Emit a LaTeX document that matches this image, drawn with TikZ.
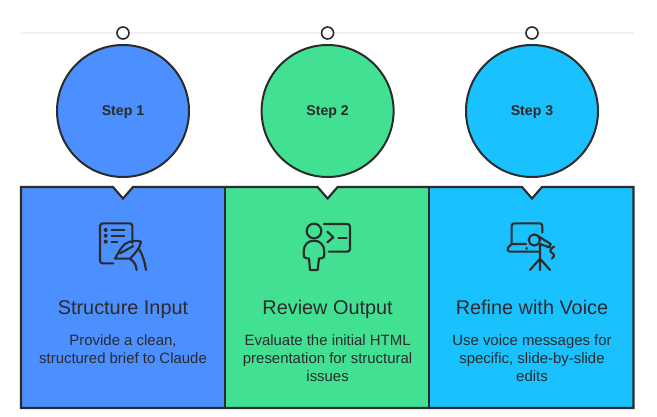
\documentclass[tikz,border=0pt]{standalone}
\usepackage{fontspec}
\setmainfont{Liberation Sans}
\definecolor{ink}{HTML}{2B2B2B}
\definecolor{cblue}{HTML}{4C8FFF}
\definecolor{cgreen}{HTML}{42E093}
\definecolor{ccyan}{HTML}{19C1FF}
\definecolor{rule}{HTML}{F3F3F3}
\tikzset{
  px/.style={x=0.75pt,y=-0.75pt},
  panel/.style={draw=ink,line width=1.6pt,line join=miter},
  bigcircle/.style={circle,draw=ink,line width=1.5pt,minimum size=132*0.75pt,inner sep=0pt,text depth=0pt,font=\fontsize{10.6}{12}\selectfont\bfseries,text=ink},
  dot/.style={circle,draw=ink,fill=white,line width=1.2pt,minimum size=12*0.75pt,inner sep=0pt},
  title/.style={font=\fontsize{14.9}{16}\selectfont,text=ink,inner sep=0pt,anchor=base},
  body/.style={font=\fontsize{11.2}{13.5}\selectfont,text=ink,align=center,inner sep=0pt,anchor=north},
  icon/.style={draw=ink,line width=1.6pt,line cap=round,line join=round},
}
\begin{document}
\begin{tikzpicture}[px]
\useasboundingbox (0,0) rectangle (657,417);
\fill[white] (0,0) rectangle (657,417);
\coordinate (ruleL) at (20,33);
\coordinate (ruleR) at (634,33);
\draw[rule,line width=1.1pt] (ruleL) -- (ruleR);
\node[dot] (d1) at (123,33) {};
\node[dot] (d2) at (327.6,33) {};
\node[dot] (d3) at (532,33) {};
\node[bigcircle,fill=cblue] (c1) at (123,111) {Step 1};
\node[bigcircle,fill=cgreen] (c2) at (327.6,111) {Step 2};
\node[bigcircle,fill=ccyan] (c3) at (532,111) {Step 3};
% panels
\fill[cblue] (21,187) rectangle (225,408);
\fill[cgreen] (225,187) rectangle (429,408);
\fill[ccyan] (429,187) rectangle (633,408);
\fill[white] (112.5,186) -- (133.5,186) -- (123,198.5) -- cycle;
\fill[white] (317,186) -- (338,186) -- (327.6,198.5) -- cycle;
\fill[white] (521.5,186) -- (542.5,186) -- (532,198.5) -- cycle;
\draw[panel] (21,187) -- (113,187) -- (123,198.5) -- (133,187) -- (317.6,187) -- (327.6,198.5) -- (337.6,187) -- (522,187) -- (532,198.5) -- (542,187) -- (633.5,187) -- (633.5,408) -- (21,408) -- cycle;
\draw[panel] (225,187) -- (225,408);
\draw[panel] (429,187) -- (429,408);
% titles
\node[title] (t1) at (123,314) {Structure Input};
\node[title] (t2) at (327.6,314) {Review Output};
\node[title] (t3) at (532,314) {Refine with Voice};
\node[body] (b1) at (123,334) {Provide a clean,\\structured brief to Claude};
\node[body] (b2) at (327.6,334) {Evaluate the initial HTML\\presentation for structural\\issues};
\node[body] (b3) at (532,334) {Use voice messages for\\specific, slide-by-slide\\edits};
% icon 1: document and quill
\begin{scope}[shift={(80,210)},x=0.25pt,y=-0.25pt]
\draw[icon,rounded corners=2pt] (157,100) -- (157,40) -- (60,40) -- (60,160) -- (100,160);
\fill[ink] (77,60) circle (1.5pt) (77,77) circle (1.5pt) (77,95) circle (1.5pt);
\draw[icon] (95,60) -- (133,60) (95,77) -- (133,77) (95,95) -- (112,95);
\draw[icon] (105,146) -- (150,146) .. controls (165,130) and (180,115) .. (183,95) .. controls (170,90) and (150,92) .. (135,102) .. controls (122,112) and (115,130) .. (105,146);
\draw[icon] (120,130) -- (160,108);
\draw[icon] (150,146) .. controls (160,155) and (168,160) .. (170,180);
\draw[icon] (178,118) .. controls (188,135) and (194,155) .. (198,180);
\end{scope}
% icon 2: person and screen
\begin{scope}[shift={(285,210)},x=0.25pt,y=-0.25pt]
\draw[icon] (87,63) circle[radius=22];
\draw[icon] (75,180) -- (98,180) -- (102,145) -- (110,145) .. controls (118,145) and (118,140) .. (118,125) .. controls (118,105) and (105,92) .. (87,92) .. controls (68,92) and (56,105) .. (56,125) .. controls (56,140) and (56,145) .. (64,145) -- (72,145) -- cycle;
\draw[icon,rounded corners=2pt] (117,42) -- (195,42) -- (195,125) -- (131,125);
\draw[icon] (127,65) -- (145,82) -- (127,97);
\draw[icon] (160,83) -- (185,83);
\end{scope}
% icon 3: laptop and microphone
\begin{scope}[shift={(490,210)},x=0.25pt,y=-0.25pt]
\draw[icon,rounded corners=2pt] (65,100) -- (65,40) -- (157,40) -- (157,68);
\draw[icon] (108,102) -- (65,102) -- (54,113) .. controls (50,120) and (54,125) .. (60,125) -- (150,125);
\fill[ink] (110,115) circle (1.2pt);
\draw[icon] (133,90) circle[radius=17];
\draw[icon] (147,80) -- (182,102) -- (178,112) -- (150,102);
\draw[icon] (192,110) .. controls (178,118) and (178,125) .. (188,130) .. controls (196,136) and (190,142) .. (186,146);
\draw[icon] (150,107) -- (150,180) (150,146) -- (120,180) (150,146) -- (180,180);
\end{scope}
\end{tikzpicture}
\end{document}
